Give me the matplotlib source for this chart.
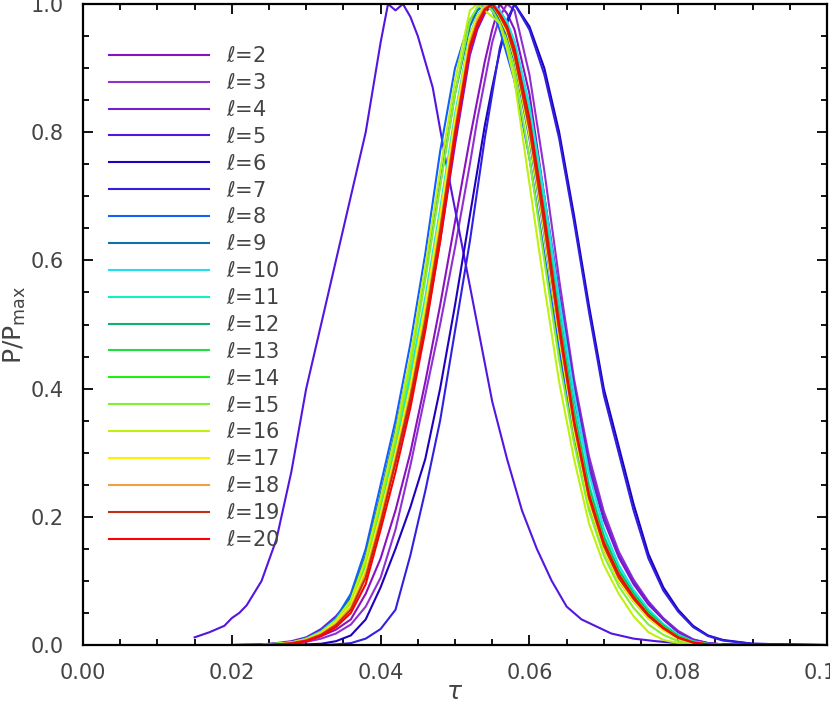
import matplotlib
matplotlib.use("Agg")
import matplotlib.pyplot as plt
from matplotlib.ticker import MultipleLocator, FormatStrFormatter

# ── data ─────────────────────────────────────────────────────
# shared tau grid for most curves
tau = [0.020, 0.024, 0.026, 0.028, 0.030, 0.032, 0.034, 0.036, 0.038, 0.040,
       0.042, 0.044, 0.046, 0.048, 0.050, 0.052, 0.053, 0.054, 0.055, 0.056,
       0.057, 0.058, 0.060, 0.062, 0.064, 0.066, 0.068, 0.070, 0.072, 0.074,
       0.076, 0.078, 0.080, 0.082, 0.084, 0.086, 0.090, 0.095, 0.100]

p_l2 = [0, 0.001, 0.002, 0.004, 0.008, 0.014, 0.024, 0.040, 0.080, 0.135,
        0.210, 0.300, 0.410, 0.530, 0.660, 0.790, 0.850, 0.910, 0.960, 1.000,
        0.985, 0.960, 0.860, 0.700, 0.530, 0.385, 0.275, 0.195, 0.137, 0.095,
        0.063, 0.040, 0.020, 0.008, 0.003, 0.001, 0, 0, 0]
p_l3 = [0, 0, 0.001, 0.002, 0.005, 0.010, 0.018, 0.032, 0.060, 0.105,
        0.180, 0.280, 0.390, 0.500, 0.620, 0.750, 0.820, 0.880, 0.940, 0.980,
        1.000, 0.990, 0.890, 0.740, 0.570, 0.415, 0.295, 0.208, 0.146, 0.102,
        0.068, 0.042, 0.022, 0.009, 0.003, 0.001, 0, 0, 0]
p_l4 = [0, 0.001, 0.003, 0.006, 0.012, 0.025, 0.045, 0.072, 0.120, 0.200,
        0.285, 0.380, 0.495, 0.630, 0.780, 0.920, 0.960, 0.985, 1.000, 0.990,
        0.970, 0.940, 0.840, 0.700, 0.550, 0.405, 0.285, 0.200, 0.140, 0.098,
        0.066, 0.040, 0.020, 0.008, 0.003, 0.001, 0, 0, 0]
p_l6 = [0, 0, 0, 0.001, 0.001, 0.002, 0.006, 0.015, 0.040, 0.090,
        0.150, 0.215, 0.290, 0.400, 0.530, 0.670, 0.740, 0.810, 0.870, 0.925,
        0.970, 1.000, 0.965, 0.900, 0.800, 0.670, 0.530, 0.400, 0.310, 0.220,
        0.142, 0.090, 0.055, 0.030, 0.015, 0.008, 0.002, 0.001, 0]
p_l7 = [0, 0, 0, 0, 0, 0, 0.001, 0.003, 0.010, 0.025,
        0.055, 0.140, 0.240, 0.350, 0.490, 0.630, 0.710, 0.790, 0.860, 0.930,
        0.975, 1.000, 0.960, 0.890, 0.790, 0.660, 0.520, 0.390, 0.300, 0.210,
        0.135, 0.085, 0.052, 0.028, 0.014, 0.007, 0.002, 0.001, 0]
p_l8 = [0, 0, 0.002, 0.004, 0.010, 0.022, 0.042, 0.080, 0.150, 0.250,
        0.350, 0.470, 0.610, 0.770, 0.900, 0.975, 0.990, 1.000, 0.990, 0.960,
        0.920, 0.880, 0.760, 0.610, 0.460, 0.320, 0.220, 0.150, 0.100, 0.068,
        0.042, 0.024, 0.010, 0.004, 0.001, 0, 0, 0, 0]
p_l9 = [0, 0, 0.002, 0.004, 0.010, 0.021, 0.041, 0.075, 0.140, 0.235,
        0.335, 0.445, 0.575, 0.720, 0.860, 0.965, 0.990, 1.000, 0.995, 0.975,
        0.950, 0.910, 0.790, 0.640, 0.480, 0.338, 0.228, 0.155, 0.105, 0.072,
        0.045, 0.026, 0.012, 0.004, 0.001, 0, 0, 0, 0]
p_l10 = [0, 0, 0.002, 0.004, 0.010, 0.021, 0.040, 0.070, 0.132, 0.222,
         0.318, 0.422, 0.542, 0.680, 0.828, 0.952, 0.982, 0.998, 1.000, 0.990,
         0.972, 0.942, 0.842, 0.700, 0.540, 0.392, 0.268, 0.182, 0.125, 0.086,
         0.056, 0.033, 0.016, 0.006, 0.002, 0, 0, 0, 0]
p_l11 = [0, 0, 0.001, 0.003, 0.009, 0.019, 0.037, 0.065, 0.125, 0.212,
         0.308, 0.412, 0.532, 0.672, 0.822, 0.950, 0.980, 0.997, 1.000, 0.987,
         0.968, 0.935, 0.830, 0.685, 0.520, 0.372, 0.252, 0.172, 0.119, 0.082,
         0.053, 0.031, 0.015, 0.005, 0.001, 0, 0, 0, 0]
p_l12 = [0, 0, 0.001, 0.003, 0.008, 0.018, 0.035, 0.062, 0.118, 0.205,
         0.300, 0.405, 0.525, 0.665, 0.815, 0.945, 0.978, 0.996, 1.000, 0.985,
         0.965, 0.930, 0.822, 0.675, 0.510, 0.362, 0.245, 0.168, 0.116, 0.080,
         0.051, 0.030, 0.014, 0.005, 0.001, 0, 0, 0, 0]
p_l13 = [0, 0, 0.001, 0.003, 0.008, 0.017, 0.033, 0.058, 0.112, 0.198,
         0.292, 0.396, 0.516, 0.655, 0.808, 0.942, 0.976, 0.995, 1.000, 0.984,
         0.962, 0.926, 0.815, 0.668, 0.502, 0.355, 0.240, 0.163, 0.112, 0.077,
         0.049, 0.029, 0.013, 0.005, 0.001, 0, 0, 0, 0]
p_l14 = [0, 0, 0.001, 0.003, 0.008, 0.018, 0.034, 0.060, 0.115, 0.200,
         0.295, 0.400, 0.520, 0.660, 0.812, 0.945, 0.978, 0.996, 1.000, 0.982,
         0.960, 0.922, 0.808, 0.660, 0.495, 0.350, 0.236, 0.160, 0.110, 0.075,
         0.048, 0.028, 0.013, 0.005, 0.001, 0, 0, 0, 0]
p_l15 = [0, 0, 0.002, 0.004, 0.009, 0.019, 0.037, 0.068, 0.130, 0.222,
         0.320, 0.435, 0.570, 0.715, 0.860, 0.975, 0.995, 1.000, 0.990, 0.970,
         0.940, 0.895, 0.760, 0.600, 0.445, 0.315, 0.210, 0.140, 0.092, 0.058,
         0.032, 0.016, 0.006, 0.002, 0.001, 0, 0, 0, 0]
p_l16 = [0, 0, 0.002, 0.004, 0.009, 0.020, 0.038, 0.070, 0.135, 0.230,
         0.330, 0.450, 0.590, 0.740, 0.880, 0.990, 1.000, 0.990, 0.980, 0.970,
         0.930, 0.880, 0.720, 0.560, 0.410, 0.290, 0.190, 0.125, 0.080, 0.045,
         0.020, 0.008, 0.003, 0.001, 0, 0, 0, 0, 0]
p_l17 = [0, 0, 0.001, 0.003, 0.008, 0.018, 0.035, 0.062, 0.118, 0.205,
         0.300, 0.405, 0.530, 0.670, 0.820, 0.950, 0.980, 0.997, 1.000, 0.980,
         0.955, 0.915, 0.795, 0.645, 0.480, 0.335, 0.222, 0.150, 0.100, 0.068,
         0.042, 0.023, 0.010, 0.004, 0.001, 0, 0, 0, 0]
p_l18 = [0, 0, 0.001, 0.003, 0.008, 0.017, 0.033, 0.058, 0.110, 0.195,
         0.290, 0.390, 0.510, 0.650, 0.805, 0.940, 0.975, 0.995, 1.000, 0.985,
         0.962, 0.925, 0.812, 0.662, 0.495, 0.348, 0.232, 0.158, 0.108, 0.073,
         0.046, 0.026, 0.012, 0.004, 0.001, 0, 0, 0, 0]
p_l19 = [0, 0, 0.001, 0.003, 0.007, 0.016, 0.031, 0.055, 0.105, 0.190,
         0.285, 0.385, 0.505, 0.645, 0.800, 0.935, 0.970, 0.992, 1.000, 0.982,
         0.960, 0.920, 0.805, 0.655, 0.490, 0.345, 0.230, 0.155, 0.105, 0.072,
         0.045, 0.026, 0.011, 0.004, 0.001, 0, 0, 0, 0]
p_l20 = [0, 0, 0.001, 0.002, 0.006, 0.014, 0.028, 0.050, 0.095, 0.180,
         0.270, 0.370, 0.490, 0.630, 0.790, 0.930, 0.965, 0.990, 1.000, 0.985,
         0.965, 0.930, 0.820, 0.670, 0.500, 0.350, 0.235, 0.160, 0.110, 0.075,
         0.047, 0.027, 0.012, 0.004, 0.001, 0, 0, 0, 0]

# l=5 peaks much earlier and has its own sampling
tau_l5 = [0.015, 0.017, 0.019, 0.020, 0.021, 0.022, 0.024, 0.026, 0.028, 0.030,
          0.032, 0.034, 0.036, 0.038, 0.040, 0.041, 0.042, 0.043, 0.044, 0.045,
          0.047, 0.049, 0.051, 0.053, 0.055, 0.057, 0.059, 0.061, 0.063, 0.065,
          0.067, 0.069, 0.071, 0.074, 0.077, 0.080, 0.085, 0.090]
p_l5 = [0.012, 0.020, 0.030, 0.042, 0.050, 0.062, 0.100, 0.165, 0.270, 0.400,
        0.500, 0.600, 0.700, 0.800, 0.940, 1.000, 0.990, 1.000, 0.980, 0.950,
        0.870, 0.740, 0.620, 0.500, 0.380, 0.290, 0.210, 0.150, 0.100, 0.060,
        0.040, 0.029, 0.018, 0.010, 0.006, 0.003, 0.001, 0.0]

ells = list(range(2, 21))
colors = ["#8b10c0", "#9030d0", "#7020d0", "#5515e0", "#2000c0", "#3020e0",
          "#1060ff", "#1070b0", "#20e0f0", "#10f0c0", "#10b070", "#20e040",
          "#20f010", "#80f030", "#c0f010", "#fff000", "#f0a040", "#c03010",
          "#ff0000"]

curves = {2: p_l2, 3: p_l3, 4: p_l4, 6: p_l6, 7: p_l7, 8: p_l8, 9: p_l9,
          10: p_l10, 11: p_l11, 12: p_l12, 13: p_l13, 14: p_l14, 15: p_l15,
          16: p_l16, 17: p_l17, 18: p_l18, 19: p_l19, 20: p_l20}

TXT = "#444444"
plt.rcParams["font.family"] = ["DejaVu Sans"]

fig = plt.figure(figsize=(8.3, 7.1), dpi=100)
ax = fig.add_axes([0.1, 0.0915, 0.8964, 0.9029])

for ell, col in zip(ells, colors):
    if ell == 5:
        x, y = tau_l5, p_l5
    else:
        x, y = tau, curves[ell]
    ax.plot(x, y, color=col, lw=1.5, label=rf"$\ell$=${ell}$")

ax.set_xlim(0.0, 0.1)
ax.set_ylim(0.0, 1.0)
ax.xaxis.set_major_locator(MultipleLocator(0.02))
ax.xaxis.set_minor_locator(MultipleLocator(0.005))
ax.yaxis.set_major_locator(MultipleLocator(0.2))
ax.yaxis.set_minor_locator(MultipleLocator(0.05))
ax.xaxis.set_major_formatter(FormatStrFormatter("%.2f"))
ax.yaxis.set_major_formatter(FormatStrFormatter("%.1f"))

ax.tick_params(which="both", direction="in", top=True, right=True,
               colors="black", labelcolor=TXT, labelsize=15, width=1.3)
ax.tick_params(which="major", length=7)
ax.tick_params(which="minor", length=4)
ax.tick_params(axis="x", pad=13)
ax.tick_params(axis="y", pad=14)
for s in ax.spines.values():
    s.set_linewidth(1.6)

ax.set_xlabel(r"$\tau$", fontsize=18, color=TXT, labelpad=-2)
ax.set_ylabel(r"P/P$_{\rm max}$", fontsize=18, color=TXT, labelpad=2)

leg = ax.legend(loc="upper left", bbox_to_anchor=(0.027, 0.944), frameon=False,
                fontsize=15, handlelength=4.8, handletextpad=0.8,
                labelspacing=0.33, borderaxespad=0.0, borderpad=0.3)
for t in leg.get_texts():
    t.set_color(TXT)

fig.savefig("out.png", dpi=100, facecolor="white")
